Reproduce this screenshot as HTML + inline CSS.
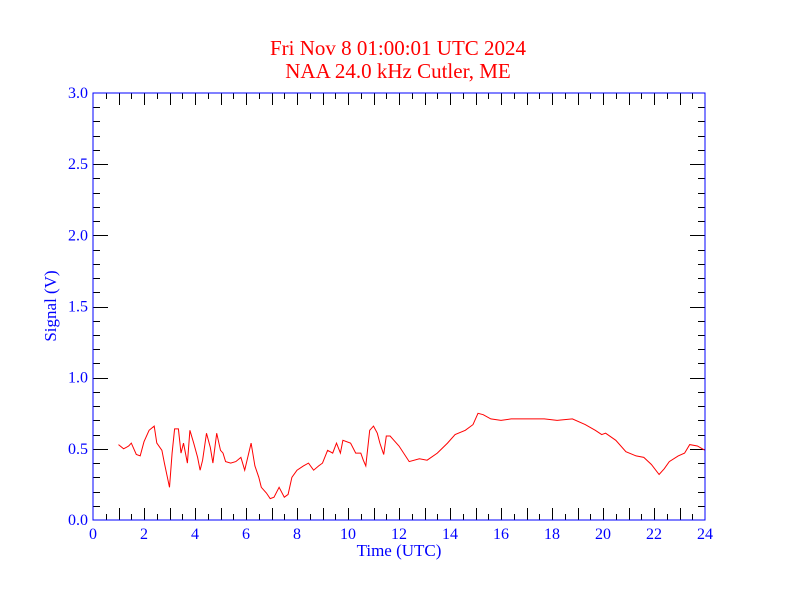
<!DOCTYPE html>
<html><head><meta charset="utf-8"><style>
body{margin:0;background:#fff}
svg{display:block;font-family:"Liberation Serif",serif}
</style></head><body>
<svg id="chart" width="792" height="612">
<rect width="792" height="612" fill="#fff"/>
<text x="398" y="55" fill="#ff0000" font-size="21" text-anchor="middle">Fri Nov 8 01:00:01 UTC 2024</text>
<text x="398" y="78" fill="#ff0000" font-size="21" text-anchor="middle">NAA 24.0 kHz Cutler, ME</text>
<g id="ticks"></g>
<polyline id="series" fill="none" stroke="#ff0000" stroke-width="1"/>
<rect x="93" y="93" width="612" height="427" fill="none" stroke="#0000ff" stroke-width="1"/>
<g id="labels"></g>
<text x="399" y="556" fill="#0000ff" font-size="17" text-anchor="middle">Time (UTC)</text>
<text x="56" y="306" fill="#0000ff" font-size="17" text-anchor="middle" transform="rotate(-90 56 306)">Signal (V)</text>
</svg>
<script>
const hours=[1.0,1.2,1.4,1.5,1.7,1.85,2.0,2.2,2.4,2.5,2.7,2.8,3.0,3.1,3.2,3.35,3.45,3.55,3.7,3.8,3.95,4.1,4.2,4.3,4.45,4.6,4.7,4.85,5.0,5.1,5.2,5.4,5.6,5.8,5.95,6.2,6.35,6.5,6.6,6.8,6.95,7.1,7.3,7.5,7.65,7.8,8.0,8.25,8.45,8.65,8.85,9.0,9.2,9.4,9.55,9.7,9.8,10.1,10.3,10.5,10.6,10.7,10.85,11.0,11.15,11.25,11.4,11.5,11.65,11.8,12.0,12.4,12.8,13.1,13.5,13.9,14.2,14.6,14.9,15.1,15.3,15.6,16.0,16.4,17.1,17.7,18.2,18.8,19.3,19.7,19.95,20.1,20.5,20.9,21.3,21.6,21.9,22.2,22.4,22.6,22.95,23.2,23.4,23.7,24.0];
const volts=[0.53,0.50,0.52,0.54,0.46,0.45,0.55,0.63,0.66,0.54,0.49,0.40,0.23,0.47,0.64,0.64,0.47,0.54,0.40,0.63,0.54,0.44,0.35,0.42,0.61,0.51,0.40,0.61,0.49,0.47,0.41,0.40,0.41,0.44,0.35,0.54,0.38,0.30,0.23,0.19,0.15,0.16,0.23,0.16,0.18,0.30,0.35,0.38,0.40,0.35,0.38,0.40,0.49,0.47,0.54,0.47,0.56,0.54,0.47,0.47,0.42,0.38,0.63,0.66,0.61,0.54,0.46,0.59,0.59,0.56,0.52,0.41,0.43,0.42,0.47,0.54,0.60,0.63,0.67,0.75,0.74,0.71,0.70,0.71,0.71,0.71,0.70,0.71,0.67,0.63,0.60,0.61,0.56,0.48,0.45,0.44,0.39,0.32,0.36,0.41,0.45,0.47,0.53,0.52,0.49];
const xTickLabels=["0","2","4","6","8","10","12","14","16","18","20","22","24"];
const yTickLabels=["0.0","0.5","1.0","1.5","2.0","2.5","3.0"];
const X0=93,X1=705,Y0=520,Y1=93;
const xs=h=>X0+(X1-X0)*h/24;
const ys=v=>Y0-(Y0-Y1)*v/3;
const NS="http://www.w3.org/2000/svg";
const tg=document.getElementById('ticks'),lg=document.getElementById('labels');
function line(x1,y1,x2,y2,c){const l=document.createElementNS(NS,'line');l.setAttribute('x1',x1);l.setAttribute('y1',y1);l.setAttribute('x2',x2);l.setAttribute('y2',y2);l.setAttribute('stroke',c);


tg.appendChild(l);}
for(let i=1;i<48;i++){const h=i/2,x=Math.round(xs(h))+0.5,L=(i%2===0)?12:6;line(x,Y0,x,Y0-L,'#000');line(x,Y1,x,Y1+L,'#000');}
for(let i=1;i<30;i++){const y=Math.round(ys(i/10))+0.5,L=(i%5===0)?15:7;line(X0,y,X0+L,y,'#000');line(X1,y,X1-L,y,'#000');}
xTickLabels.forEach((t,i)=>{const e=document.createElementNS(NS,'text');e.setAttribute('x',xs(i*2));e.setAttribute('y',539);e.setAttribute('fill','#0000ff');e.setAttribute('font-size','16');e.setAttribute('text-anchor','middle');e.textContent=t;


lg.appendChild(e);});
yTickLabels.forEach((t,i)=>{const e=document.createElementNS(NS,'text');e.setAttribute('x',88);e.setAttribute('y',ys(i*0.5)+5);e.setAttribute('fill','#0000ff');e.setAttribute('font-size','16');e.setAttribute('text-anchor','end');e.textContent=t;


lg.appendChild(e);});
document.getElementById('series').setAttribute('points',hours.map((h,i)=>xs(h).toFixed(1)+','+ys(volts[i]).toFixed(1)).join(' '));
</script>
</body></html>
